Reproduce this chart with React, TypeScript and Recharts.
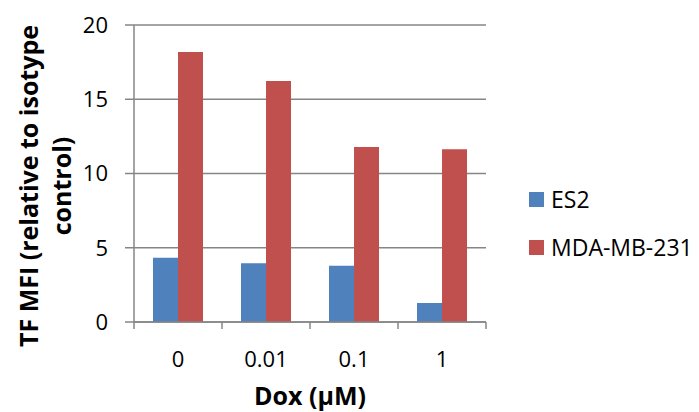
import * as React from "react";
import { BarChart, Bar, XAxis, YAxis, CartesianGrid, Label } from "recharts";

const doses = ["0", "0.01", "0.1", "1"];
const es2 = [4.33, 3.95, 3.79, 1.28];
const mda = [18.18, 16.23, 11.78, 11.63];
const yTicks = [0, 5, 10, 15, 20];

const data = doses.map((d, i) => ({ dose: d, ES2: es2[i], "MDA-MB-231": mda[i] }));

const FONT = "'Open Sans', 'Noto Sans', sans-serif";
const AXIS = "#868686";
const BLUE = "#4f81bd";
const RED = "#c0504d";

const W = 699;
const H = 412;
const Y_W = 80;
const M = { top: 25, right: 213, left: 54, bottom: 30 };
const X_H = 60;
const PLOT_W = W - M.left - Y_W - M.right;
const PLOT_BOTTOM = H - M.bottom - X_H;
const BAND = PLOT_W / doses.length;

function XTick(props: any) {
  const { x, payload, index } = props;
  return (
    <g>
      <line x1={x - BAND / 2} x2={x - BAND / 2} y1={PLOT_BOTTOM} y2={PLOT_BOTTOM + 7} stroke={AXIS} strokeWidth={1.5} />
      {index === doses.length - 1 && (
        <line x1={x + BAND / 2} x2={x + BAND / 2} y1={PLOT_BOTTOM} y2={PLOT_BOTTOM + 7} stroke={AXIS} strokeWidth={1.5} />
      )}
      <text x={x} y={PLOT_BOTTOM + 36} textAnchor="middle" dominantBaseline="central" fontSize={22} fontFamily={FONT} fill="#000">
        {payload.value}
      </text>
    </g>
  );
}

function YTitle() {
  const cy = 186;
  return (
    <g fontFamily={FONT} fontWeight="bold" fontSize={25} fill="#000">
      <text x={28} y={cy} transform={`rotate(-90 28 ${cy})`} textAnchor="middle" dominantBaseline="central">
        TF MFI (relative to isotype
      </text>
      <text x={61} y={cy} transform={`rotate(-90 61 ${cy})`} textAnchor="middle" dominantBaseline="central">
        control)
      </text>
    </g>
  );
}

const legendItems = [
  { name: "ES2", color: BLUE },
  { name: "MDA-MB-231", color: RED },
];

export default function App() {
  return (
    <div style={{ position: "absolute", left: 0, top: 0, width: W, height: H, background: "#fff" }}>
      <BarChart width={W} height={H} data={data} margin={M} barGap={0} barCategoryGap="21.6%">
        <CartesianGrid vertical={false} stroke={AXIS} strokeWidth={1.5} />
        <XAxis
          dataKey="dose"
          height={X_H}
          tick={<XTick />}
          tickLine={false}
          axisLine={{ stroke: AXIS, strokeWidth: 1.5 }}
          interval={0}
        >
          <Label
            value="Dox (μM)"
            position="insideBottom"
            offset={-23}
            style={{ fontFamily: FONT, fontWeight: "bold", fontSize: 25, fill: "#000" }}
          />
        </XAxis>
        <YAxis
          width={Y_W}
          domain={[0, 20]}
          ticks={yTicks}
          tickSize={9}
          tickMargin={17}
          tick={{ fontFamily: FONT, fontSize: 22, fill: "#000" }}
          tickLine={{ stroke: AXIS, strokeWidth: 1.5 }}
          axisLine={{ stroke: AXIS, strokeWidth: 1.5 }}
          label={{ content: () => <YTitle /> }}
        />
        <Bar dataKey="ES2" fill={BLUE} isAnimationActive={false} />
        <Bar dataKey="MDA-MB-231" fill={RED} isAnimationActive={false} />
      </BarChart>
      <div style={{ position: "absolute", left: 529, top: 184, fontFamily: FONT, fontSize: 23, color: "#000" }}>
        {legendItems.map((it, i) => (
          <div key={it.name} style={{ display: "flex", alignItems: "center", height: 30, marginBottom: i === 0 ? 18 : 0 }}>
            <span style={{ width: 15, height: 15, background: it.color, display: "inline-block", marginRight: 7 }} />
            <span>{it.name}</span>
          </div>
        ))}
      </div>
    </div>
  );
}
